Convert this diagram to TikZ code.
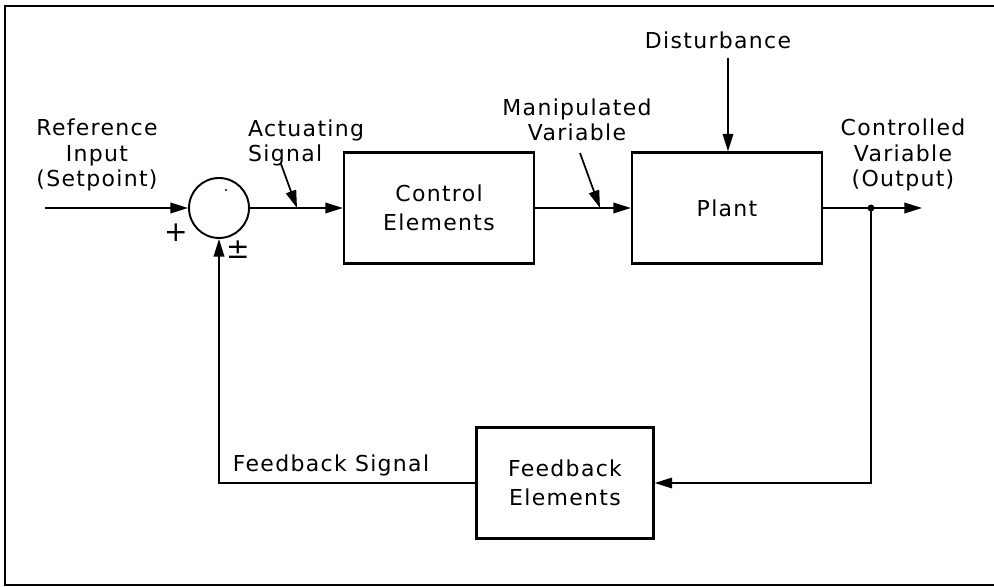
\documentclass[tikz,border=0pt]{standalone}
\usepackage{fontspec}
\setmainfont[LetterSpace=6]{DejaVu Sans}
\usetikzlibrary{arrows.meta}

\begin{document}
\begin{tikzpicture}[x=0.02cm, y=-0.02cm, >={Triangle[length=10pt,width=6pt]},
  every node/.style={font=\fontsize{12.5}{14.3}\selectfont, align=center},
  block/.style={draw, line width=1.3pt, minimum width=3.8cm, minimum height=2.22cm, inner sep=0pt},
  line/.style={line width=1pt}]
\useasboundingbox (0,0) rectangle (994,587);
\draw[line width=1.4pt] (994,6) -- (5,6) -- (5,585) -- (994,585);

\node[draw, circle, line width=1.1pt, minimum size=1.2cm, inner sep=0pt] (sum) at (219,208) {};
\fill (226,190) circle (1.2);
\node[block] (ctrl)  at (439,208) {Control\\[2pt]Elements};
\node[block] (plant) at (727,208) {Plant};
\node[block, minimum width=3.54cm] (fb) at (565,483) {Feedback\\[2pt]Elements};

\node (ref)  at (97,155) {Reference\\Input\\(Setpoint)};
\node[align=left, anchor=west] (act) at (242,143) {Actuating\\Signal};
\node (man)  at (577,120) {Manipulated\\Variable};
\node (dist) at (718,40)  {Disturbance};
\node (out)  at (903,155) {Controlled\\Variable\\(Output)};
\node (fbs)  at (331,465) {Feedback Signal};
\node[font=\fontsize{16}{16}\selectfont] (plus) at (176,233) {+};
\node[font=\fontsize{16}{16}\selectfont] (pm)   at (238,250) {±};

\coordinate (in)      at (45,208);
\coordinate (tap)     at (871,208);
\coordinate (end)     at (922,208);
\coordinate (dtop)    at (728,58);
\coordinate (actTail) at (281,164);
\coordinate (actTip)  at (297,208);
\coordinate (manTail) at (580,153);
\coordinate (manTip)  at (600,208);

\draw[line,->] (in) -- (sum);
\draw[line,->] (sum) -- (ctrl);
\draw[line,->] (ctrl) -- (plant);
\draw[line,->] (plant.east) -- (end);
\fill (tap) circle (3.5);
\draw[line,->] (tap) |- (fb);
\draw[line,->] (fb) -| (sum);
\draw[line,->] (dtop) -- (dtop |- plant.north);
\draw[line,->] (actTail) -- (actTip);
\draw[line,->] (manTail) -- (manTip);
\end{tikzpicture}
\end{document}
